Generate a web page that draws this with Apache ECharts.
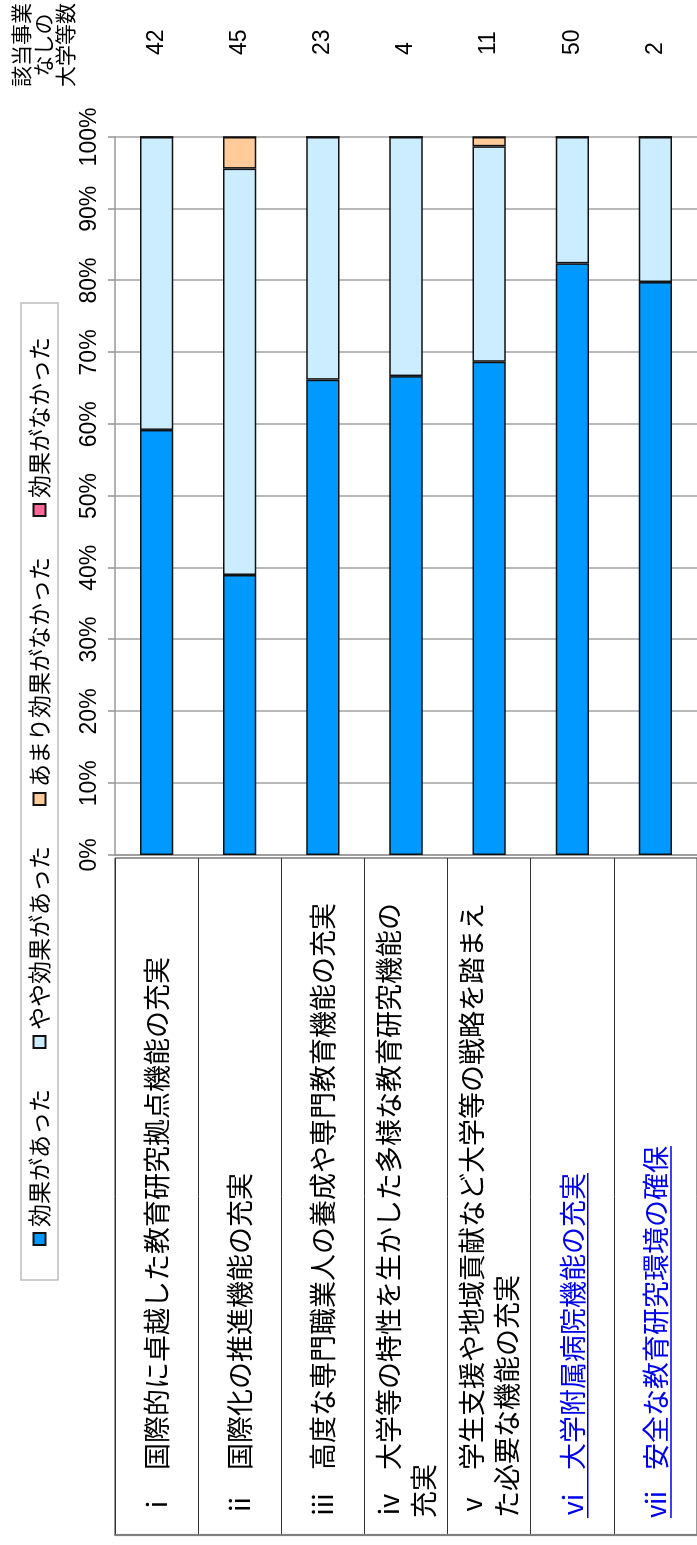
<!DOCTYPE html>
<html>
<head>
<meta charset="utf-8">
<script src="https://cdn.jsdelivr.net/npm/echarts@6/dist/echarts.min.js"></script>
<style>
html,body{margin:0;padding:0;background:#fff;overflow:hidden;width:697px;height:1545px;}
#wrap{position:absolute;left:0;top:0;width:1545px;height:697px;transform-origin:0 0;transform:translate(0,1545px) rotate(-90deg);}
</style>
</head>
<body>
<div id="wrap"></div>
<script>
// ---- data ----
const numerals = ['ⅰ', 'ⅱ', 'ⅲ', 'ⅳ', 'ⅴ', 'ⅵ', 'ⅶ'];
const categories = [
  '国際的に卓越した教育研究拠点機能の充実',
  '国際化の推進機能の充実',
  '高度な専門職業人の養成や専門教育機能の充実',
  '大学等の特性を生かした多様な教育研究機能の\n充実',
  '学生支援や地域貢献など大学等の戦略を踏まえ\nた必要な機能の充実',
  '大学附属病院機能の充実',
  '安全な教育研究環境の確保'
];
const linkRows = [5, 6];
const seriesNames = ['効果があった', 'やや効果があった', 'あまり効果がなかった', '効果がなかった'];
const effective = [59.2, 39.0, 66.2, 66.7, 68.7, 82.4, 79.8];
const somewhat  = [40.8, 56.6, 33.8, 33.3, 30.0, 17.6, 20.2];
const notMuch   = [0, 4.4, 0, 0, 1.3, 0, 0];
const notAtAll  = [0, 0, 0, 0, 0, 0, 0];
const noProjectCounts = [42, 45, 23, 4, 11, 50, 2];
const countHeader = '該当事業\nなしの\n大学等数';
const valueMin = 0, valueMax = 100, valueInterval = 10;

// ---- styles ----
const JP = '"Noto Sans CJK JP", sans-serif';
const LAT = '"Liberation Sans", Arial, sans-serif';
const colors = ['#0099FF', '#CCECFF', '#FFCC99', '#FF6699'];
const catFont = 27;
const numBox = 48;
const blue = '#0000EE';

const chart = echarts.init(document.getElementById('wrap'), null, {renderer: 'canvas'});

const seriesData = [effective, somewhat, notMuch, notAtAll];
const series = seriesNames.map((name, i) => ({
  name: name,
  type: 'bar',
  stack: 'total',
  xAxisIndex: 0,
  yAxisIndex: 0,
  barWidth: '40%',
  data: seriesData[i],
  itemStyle: {color: colors[i], borderColor: '#111', borderWidth: 1.5},
  emphasis: {disabled: true}
}));

const option = {
  animation: false,
  backgroundColor: '#fff',
  color: colors,
  legend: {
    data: seriesNames,
    top: 21,
    right: 303,
    orient: 'horizontal',
    icon: 'rect',
    itemWidth: 12,
    itemHeight: 12,
    itemGap: 40,
    padding: [7, 34, 7, 34],
    borderColor: '#bdbdbd',
    borderWidth: 1.5,
    selectedMode: false,
    textStyle: {fontSize: 23, color: '#000', fontFamily: JP, padding: [0, 0, 0, 1]}
  },
  grid: [
    {left: 690, right: 137, top: 115, height: 583.33},
    {left: 10, width: 677, top: 115, height: 583.33, show: true, borderColor: '#333', borderWidth: 1, backgroundColor: 'transparent'}
  ],
  xAxis: [
    {
      type: 'value', gridIndex: 0, position: 'top',
      min: valueMin, max: valueMax, interval: valueInterval,
      axisLine: {show: true, lineStyle: {color: '#999', width: 1.6}},
      axisTick: {show: true, length: 7, lineStyle: {color: '#999', width: 1.6}},
      splitLine: {show: true, lineStyle: {color: '#a8a8a8', width: 1.6}},
      axisLabel: {formatter: '{value}%', fontSize: 23, color: '#000', fontFamily: LAT, margin: 14}
    },
    {type: 'value', gridIndex: 1, min: 0, max: 1, show: false}
  ],
  yAxis: [
    {
      type: 'category', gridIndex: 0, inverse: true, data: categories,
      axisLine: {show: true, lineStyle: {color: '#999', width: 1.6}},
      axisTick: {show: false},
      axisLabel: {show: false},
      splitLine: {show: false}
    },
    {
      type: 'category', gridIndex: 0, inverse: true, position: 'right',
      data: noProjectCounts.map(String),
      axisLine: {show: false}, axisTick: {show: false}, splitLine: {show: false},
      axisLabel: {interval: 0, margin: 82, fontSize: 23, color: '#000', fontFamily: LAT}
    },
    {
      type: 'category', gridIndex: 1, inverse: true, position: 'left', data: categories,
      axisLine: {show: true, lineStyle: {color: '#808080', width: 2.2}},
      axisTick: {show: false},
      splitLine: {show: true, interval: 0, lineStyle: {color: '#333', width: 1}},
      axisLabel: {
        inside: true, margin: 17, interval: 0,
        formatter: function (value, idx) {
          const link = linkRows.indexOf(idx) >= 0;
          return '{' + (link ? 'nb' : 'n') + '|' + numerals[idx] + '}{' + (link ? 'tb' : 't') + '|' + value + '}';
        },
        rich: {
          n: {width: numBox, fontSize: catFont, lineHeight: 35, fontFamily: JP, color: '#000', align: 'left'},
          t: {fontSize: catFont, lineHeight: 35, fontFamily: JP, color: '#000'},
          nb: {width: numBox, fontSize: catFont, lineHeight: 35, fontFamily: JP, color: blue, align: 'left'},
          tb: {fontSize: catFont, lineHeight: 35, fontFamily: JP, color: blue}
        }
      }
    }
  ],
  series: series
};
chart.setOption(option);

// header text + underlines for link rows (layout from the axis positions)
const ctx = document.createElement('canvas').getContext('2d');
ctx.font = catFont + 'px "Noto Sans CJK JP"';
const tableLeft = 10 + 17;
const graphics = [{
  type: 'text',
  x: 1500, y: 43,
  style: {text: countHeader, fontSize: 21, lineHeight: 22, fontFamily: JP, fill: '#000', align: 'center', verticalAlign: 'middle'}
}];
linkRows.forEach(idx => {
  const y = chart.convertToPixel({yAxisIndex: 2}, idx);
  const w = numBox + ctx.measureText(categories[idx]).width;
  graphics.push({
    type: 'line',
    shape: {x1: tableLeft, y1: y + 15.5, x2: tableLeft + w, y2: y + 15.5},
    style: {stroke: blue, lineWidth: 1.5}
  });
});
chart.setOption({graphic: graphics});
</script>
</body>
</html>
